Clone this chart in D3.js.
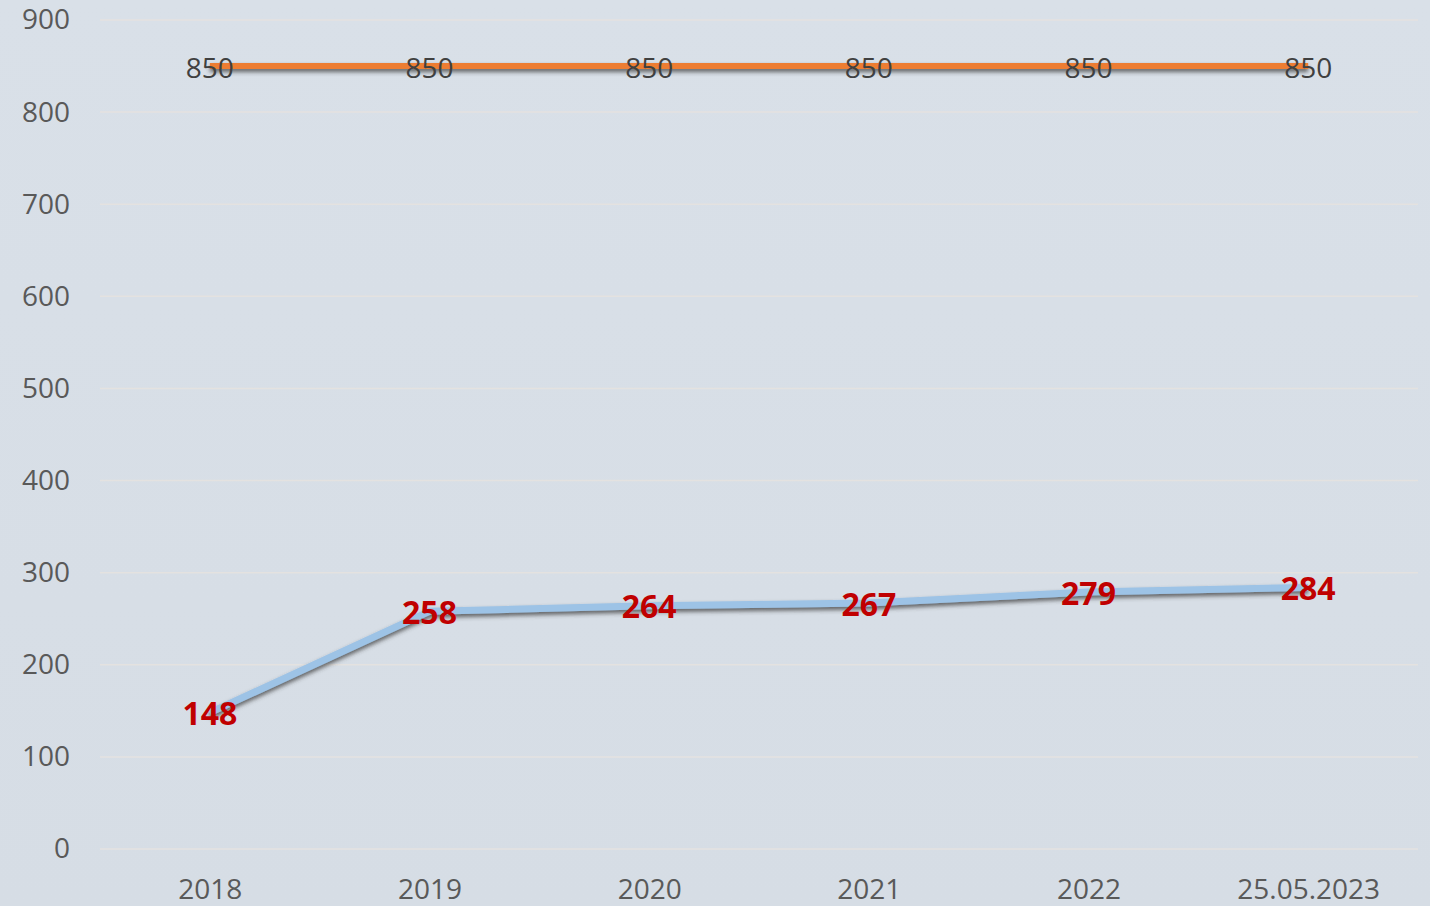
<!DOCTYPE html>
<html>
<head>
<meta charset="utf-8">
<script src="https://cdn.jsdelivr.net/npm/d3@7"></script>
<style>
  html, body { margin: 0; padding: 0; background: #d7dee6; }
  svg { display: block; }
</style>
</head>
<body>
<script>
// chart data
const categories = ['2018', '2019', '2020', '2021', '2022', '25.05.2023'];
const actualValues = [148, 258, 264, 267, 279, 284];
const limitValues = [850, 850, 850, 850, 850, 850];
const yTicks = [0, 100, 200, 300, 400, 500, 600, 700, 800, 900];

const width = 1430;
const height = 906;
const margin = ({top: 20, right: 12, bottom: 57, left: 100});

const svg = d3.select('body')
  .append('svg')
  .attr('width', width)
  .attr('height', height);

// soft background gradient
const defs = svg.append('defs');
const grad = defs.append('linearGradient')
  .attr('id', 'bg').attr('x1', 0).attr('y1', 0).attr('x2', 0).attr('y2', 1);
grad.append('stop').attr('offset', '0%').attr('stop-color', '#d9e0e8');
grad.append('stop').attr('offset', '100%').attr('stop-color', '#d6dde5');

// drop shadow for the lines (user space so a flat line still gets it)
const shadow = defs.append('filter')
  .attr('id', 'shadow')
  .attr('filterUnits', 'userSpaceOnUse')
  .attr('x', 0).attr('y', 0).attr('width', width).attr('height', height);
shadow.append('feDropShadow')
  .attr('dx', 0).attr('dy', 3)
  .attr('stdDeviation', 2)
  .attr('flood-color', '#3a3a3a')
  .attr('flood-opacity', 0.75);

svg.append('rect')
  .attr('width', width).attr('height', height)
  .attr('fill', 'url(#bg)');

// scales
const xScale = d3.scalePoint()
  .domain(categories)
  .range([margin.left, width - margin.right])
  .padding(0.5);

const yScale = d3.scaleLinear()
  .domain([0, 900])
  .range([height - margin.bottom, margin.top]);

// gridlines
svg.append('g')
  .selectAll('line')
  .data(yTicks)
  .join('line')
  .attr('x1', margin.left)
  .attr('x2', width - margin.right)
  .attr('y1', d => yScale(d))
  .attr('y2', d => yScale(d))
  .attr('stroke', '#e4e2e0')
  .attr('stroke-width', 1.5);

// Y axis
const yAxis = d3.axisLeft(yScale).tickValues(yTicks).tickSize(0).tickPadding(30);
svg.append('g')
  .attr('transform', `translate(${margin.left},0)`)
  .call(yAxis)
  .call(g => g.select('.domain').remove())
  .selectAll('text')
  .attr('font-family', 'Open Sans, sans-serif')
  .attr('font-size', 28)
  .attr('fill', '#595959');

// X axis
const xAxis = d3.axisBottom(xScale).tickSize(0).tickPadding(30);
svg.append('g')
  .attr('transform', `translate(0,${height - margin.bottom})`)
  .call(xAxis)
  .call(g => g.select('.domain').remove())
  .selectAll('text')
  .attr('font-family', 'Open Sans, sans-serif')
  .attr('font-size', 28)
  .attr('fill', '#595959');

const line = d3.line()
  .x((d, i) => xScale(categories[i]))
  .y(d => yScale(d));

// limit line (orange)
svg.append('path')
  .datum(limitValues)
  .attr('d', line)
  .attr('fill', 'none')
  .attr('stroke', '#ed7d31')
  .attr('stroke-width', 6)
  .attr('filter', 'url(#shadow)');

// actual line (blue)
svg.append('path')
  .datum(actualValues)
  .attr('d', line)
  .attr('fill', 'none')
  .attr('stroke', '#9dc3e6')
  .attr('stroke-width', 7)
  .attr('stroke-linejoin', 'round')
  .attr('filter', 'url(#shadow)');

// labels for the limit line
svg.append('g')
  .selectAll('text')
  .data(limitValues)
  .join('text')
  .attr('x', (d, i) => xScale(categories[i]))
  .attr('y', d => yScale(d) + 4)
  .attr('text-anchor', 'middle')
  .attr('dominant-baseline', 'middle')
  .attr('font-family', 'Open Sans, sans-serif')
  .attr('font-size', 28)
  .attr('fill', '#404040')
  .text(d => d);

// labels for the actual line
svg.append('g')
  .selectAll('text')
  .data(actualValues)
  .join('text')
  .attr('x', (d, i) => xScale(categories[i]))
  .attr('y', d => yScale(d) + 4)
  .attr('text-anchor', 'middle')
  .attr('dominant-baseline', 'middle')
  .attr('font-family', 'Open Sans, sans-serif')
  .attr('font-weight', 'bold')
  .attr('font-size', 32)
  .attr('fill', '#c00000')
  .text(d => d);
</script>
</body>
</html>
